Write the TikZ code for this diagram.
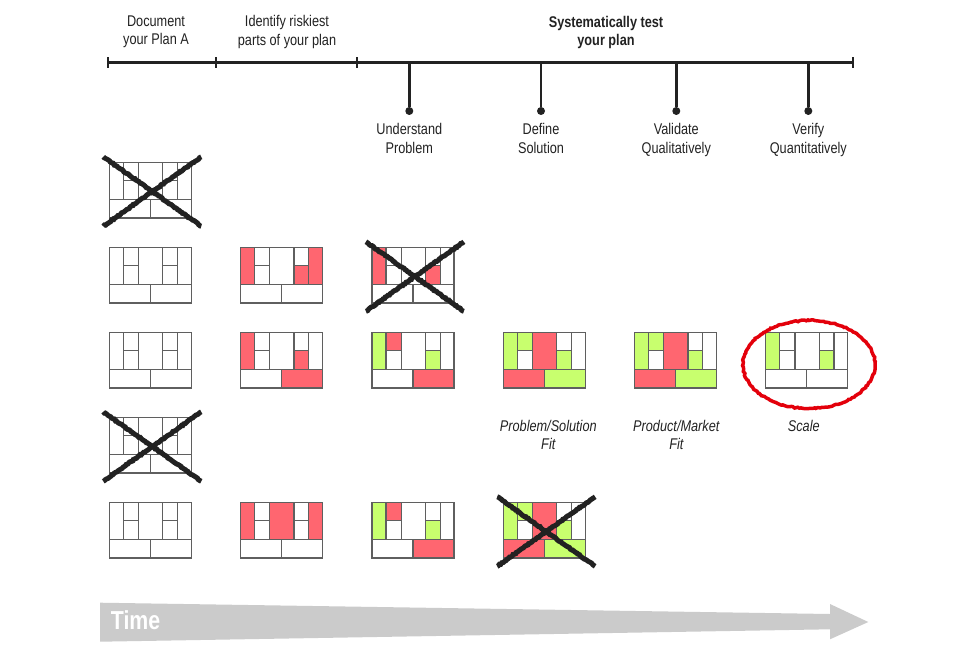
\documentclass[tikz,border=0pt]{standalone}
\usepackage{fontspec}
\setmainfont{Liberation Sans}[FakeStretch=0.82]
\usetikzlibrary{positioning,decorations.pathmorphing}
\definecolor{riskred}{HTML}{FF6670}
\definecolor{okgreen}{HTML}{C8FF6E}
\definecolor{cellgray}{HTML}{5F5F5F}
\definecolor{ink}{HTML}{222222}
\definecolor{timegray}{HTML}{CBCBCB}
\definecolor{circlered}{HTML}{E3000B}
\newcommand{\lblfont}{\fontsize{15.5}{18.5}\selectfont}
\tikzset{
cellline/.style={draw=cellgray,line width=1.2pt},
crossmark/.style={draw=ink,line width=5pt,decorate,decoration={random steps,segment length=1.5pt,amplitude=0.5pt}},
lbl/.style={inner sep=0pt,align=center,text=ink,font=\lblfont},
dot/.style={circle,fill=ink,inner sep=0pt,minimum size=8pt},
}
\newcommand{\cellA}[1]{\fill[#1] (0,0) rectangle (14,37);}
\newcommand{\cellB}[1]{\fill[#1] (14,0) rectangle (29.2,18.5);}
\newcommand{\cellD}[1]{\fill[#1] (29.2,0) rectangle (53.4,37);}
\newcommand{\cellF}[1]{\fill[#1] (53.4,18.5) rectangle (68.2,37);}
\newcommand{\cellG}[1]{\fill[#1] (68.2,0) rectangle (82,37);}
\newcommand{\cellH}[1]{\fill[#1] (0,37) rectangle (41,55.7);}
\newcommand{\cellI}[1]{\fill[#1] (41,37) rectangle (82,55.7);}
\newcommand{\leancanvas}[3]{%
\begin{scope}[shift={(#1,#2)}]
#3
\draw[cellline] (0,0) rectangle (82,55.7);
\draw[cellline] (0,37) -- (82,37) (41,37) -- (41,55.7);
\draw[cellline] (14,0) -- (14,37) (29.2,0) -- (29.2,37) (53.4,0) -- (53.4,37) (68.2,0) -- (68.2,37);
\draw[cellline] (14,18.5) -- (29.2,18.5) (53.4,18.5) -- (68.2,18.5);
\end{scope}}
\newcommand{\crossat}[2]{\draw[crossmark] (#1-6,#2-5.5) -- (#1+92,#2+64) (#1-6,#2+64) -- (#1+92,#2-5.5);}
\newcommand{\fitcells}{\cellA{okgreen}\cellB{okgreen}\cellD{riskred}\cellF{okgreen}\cellH{riskred}\cellI{okgreen}}

\begin{document}
\begin{tikzpicture}[x=1pt,y=-1pt]
\useasboundingbox (0,0) rectangle (979,666);

\coordinate (t0) at (108,63);
\coordinate (t1) at (216,63);
\coordinate (t2) at (357,63);
\coordinate (t3) at (853,63);
\draw[ink,line width=3pt] (t0) -- (t3);
\foreach \t in {t0,t1,t2,t3}
  \draw[ink,line width=2.5pt] ([yshift=5.5pt]\t) -- ([yshift=-5.5pt]\t);

\node[lbl,anchor=north] (plana) at (156,15.5) {Document\\your Plan A};
\node[lbl,anchor=north] (riskiest) at (287,15.5) {Identify riskiest\\parts of your plan};
\node[lbl,anchor=north,font=\lblfont\bfseries] (testplan) at (606,16) {Systematically test\\your plan};

\coordinate (s1) at (409.3,63);
\coordinate (s2) at (541,63);
\coordinate (s3) at (676.3,63);
\coordinate (s4) at (808.3,63);
\node[dot] (p1) at (409.3,111) {};
\node[dot] (p2) at (541,111) {};
\node[dot] (p3) at (676.3,111) {};
\node[dot] (p4) at (808.3,111) {};
\draw[ink,line width=2.5pt] (s1) -- (p1);
\draw[ink,line width=2.5pt] (s2) -- (p2);
\draw[ink,line width=2.5pt] (s3) -- (p3);
\draw[ink,line width=2.5pt] (s4) -- (p4);
\node[lbl,below=8pt of p1] (understand) {Understand\\Problem};
\node[lbl,below=8pt of p2] (define) {Define\\Solution};
\node[lbl,below=8pt of p3] (validate) {Validate\\Qualitatively};
\node[lbl,below=8pt of p4] (verify) {Verify\\Quantitatively};

\leancanvas{109.3}{162.3}{}
\crossat{109.3}{162.3}

\leancanvas{109.3}{247.3}{}
\leancanvas{240.6}{247.3}{\cellA{riskred}\cellF{riskred}\cellG{riskred}}
\leancanvas{371.9}{247.3}{\cellA{riskred}\cellF{riskred}}
\crossat{371.9}{247.3}

\leancanvas{109.3}{332.3}{}
\leancanvas{240.6}{332.3}{\cellA{riskred}\cellF{riskred}\cellI{riskred}}
\leancanvas{371.9}{332.3}{\cellA{okgreen}\cellB{riskred}\cellF{okgreen}\cellI{riskred}}
\leancanvas{503.2}{332.3}{\fitcells}
\leancanvas{634.5}{332.3}{\fitcells}
\leancanvas{765.8}{332.3}{\cellA{okgreen}\cellF{okgreen}}
\draw[circlered,line width=3.5pt,decorate,decoration={random steps,segment length=2pt,amplitude=0.6pt}] (809,364.5) ellipse [x radius=66,y radius=44];

\node[lbl,anchor=north,font=\lblfont\itshape] (psfit) at (548.3,420) {Problem/Solution\\Fit};
\node[lbl,anchor=north,font=\lblfont\itshape] (pmfit) at (676.3,420) {Product/Market\\Fit};
\node[lbl,anchor=north,font=\lblfont\itshape] (scale) at (803.8,420) {Scale};

\leancanvas{109.3}{417.3}{}
\crossat{109.3}{417.3}

\leancanvas{109.3}{502.3}{}
\leancanvas{240.6}{502.3}{\cellA{riskred}\cellD{riskred}\cellG{riskred}}
\leancanvas{371.9}{502.3}{\cellA{okgreen}\cellB{riskred}\cellF{okgreen}\cellI{riskred}}
\leancanvas{503.2}{502.3}{\fitcells}
\crossat{503.2}{502.3}

\fill[timegray] (100,602.7) -- (830,614) -- (830,604) -- (868.3,622) -- (830,639.3) -- (830,629.3) -- (100,641.7) -- cycle;
\node[anchor=base west,inner sep=0pt,text=white,font=\fontsize{26}{30}\selectfont\bfseries] (time) at (110.7,629) {Time};

\end{tikzpicture}
\end{document}
